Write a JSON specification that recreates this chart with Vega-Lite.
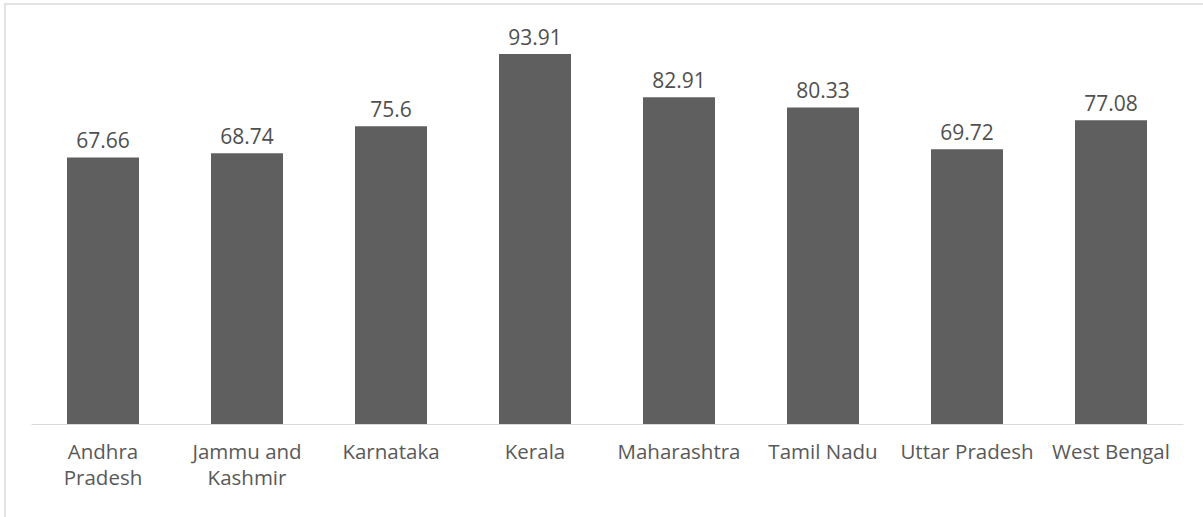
{
  "$schema": "https://vega.github.io/schema/vega-lite/v6.json",
  "autosize": "none",
  "width": 1300,
  "height": 600,
  "padding": {"left": 5, "top": 4, "right": 0, "bottom": 0},
  "background": "white",
  "config": {
    "view": {"stroke": "#e3e3e3", "strokeWidth": 2},
    "font": "Open Sans"
  },
  "data": {
    "values": [
      {"state": "Andhra Pradesh", "value": 67.66},
      {"state": "Jammu and Kashmir", "value": 68.74},
      {"state": "Karnataka", "value": 75.6},
      {"state": "Kerala", "value": 93.91},
      {"state": "Maharashtra", "value": 82.91},
      {"state": "Tamil Nadu", "value": 80.33},
      {"state": "Uttar Pradesh", "value": 69.72},
      {"state": "West Bengal", "value": 77.08}
    ]
  },
  "encoding": {
    "x": {
      "field": "state",
      "type": "nominal",
      "sort": null,
      "scale": {"paddingInner": 0.5, "paddingOuter": 0.25, "range": [26, 1178]},
      "axis": {
        "title": null,
        "labelAngle": 0,
        "ticks": false,
        "offset": -180,
        "domainColor": "#d9d9d9",
        "domainWidth": 1,
        "labelColor": "#595959",
        "labelFontSize": 20.5,
        "labelFont": "Open Sans",
        "labelPadding": 18,
        "labelLineHeight": 26,
        "labelBaseline": "top",
        "labelExpr": "datum.value == 'Andhra Pradesh' ? ['Andhra', 'Pradesh'] : datum.value == 'Jammu and Kashmir' ? ['Jammu and', 'Kashmir'] : datum.value"
      }
    },
    "y": {
      "field": "value",
      "type": "quantitative",
      "scale": {"domain": [0, 100], "range": [420, 26]},
      "axis": null
    }
  },
  "layer": [
    {"mark": {"type": "bar", "color": "#5f5f5f"}},
    {
      "mark": {"type": "text", "dy": -5, "baseline": "bottom", "fontSize": 21, "color": "#505050", "font": "Open Sans"},
      "encoding": {"text": {"field": "value", "type": "quantitative"}}
    }
  ]
}
